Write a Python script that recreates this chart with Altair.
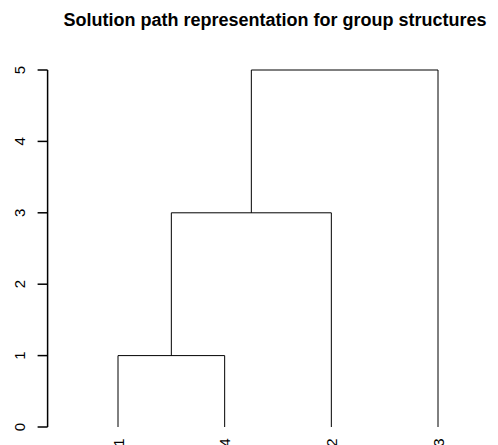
import altair as alt
import pandas as pd

# Dendrogram data (hclust-style merge table)
leaf_order = ["1", "4", "2", "3"]          # leaf labels in plotted order
merge_left = ["1", "m1", "m2"]              # left child of each merge
merge_right = ["4", "2", "3"]               # right child of each merge
merge_height = [1, 3, 5]                    # height of each merge
y_ticks = [0, 1, 2, 3, 4, 5]
axis_pos = 0.34                             # where the height axis sits (x units)

# positions derived from the merge structure
pos = {lab: i + 1 for i, lab in enumerate(leaf_order)}
hgt = {lab: 0 for lab in leaf_order}
rows = []
for i, (a, b, h) in enumerate(zip(merge_left, merge_right, merge_height)):
    name = f"m{i+1}"
    xa, xb = pos[a], pos[b]
    rows.append({"x": xa, "x2": xb, "y": h, "y2": h})
    rows.append({"x": xa, "x2": xa, "y": hgt[a], "y2": h})
    rows.append({"x": xb, "x2": xb, "y": hgt[b], "y2": h})
    pos[name] = (xa + xb) / 2
    hgt[name] = h
seg = pd.DataFrame(rows)
ticks_df = pd.DataFrame({"t": y_ticks, "ax": [axis_pos] * len(y_ticks),
                         "lab": [str(v) for v in y_ticks]})
span_df = pd.DataFrame({"ax": [axis_pos], "lo": [min(y_ticks)], "hi": [max(y_ticks)]})

label_expr = "{" + ",".join(f"'{i+1}':'{lab}'" for i, lab in enumerate(leaf_order)) + "}[datum.value]"

xscale = alt.Scale(domain=[0.0625, 4.4875], nice=False, zero=False)
yscale = alt.Scale(domain=[0, 5], nice=False)

dendro = alt.Chart(seg).mark_rule(color="black", strokeWidth=1).encode(
    x=alt.X("x:Q", scale=xscale,
            axis=alt.Axis(values=[1, 2, 3, 4], labelExpr=label_expr, title=None,
                          domain=False, ticks=False, grid=False,
                          labelAngle=270, labelAlign="right", labelBaseline="middle",
                          labelPadding=11, labelFontSize=15, labelFont="Liberation Sans",
                          labelColor="black")),
    x2="x2:Q",
    y=alt.Y("y:Q", scale=yscale, axis=None),
    y2="y2:Q",
)

axis_line = alt.Chart(span_df).mark_rule(color="#000000", strokeWidth=1.5, opacity=1).encode(
    x=alt.X("ax:Q", scale=xscale),
    y=alt.Y("lo:Q", scale=yscale),
    y2="hi:Q",
)

axis_ticks = alt.Chart(ticks_df).mark_rule(color="#000000", strokeWidth=1.5, opacity=1,
                                           x2Offset=-10).encode(
    x=alt.X("ax:Q", scale=xscale),
    x2="ax:Q",
    y=alt.Y("t:Q", scale=yscale),
)

axis_labels = alt.Chart(ticks_df).mark_text(
    angle=270, align="center", baseline="alphabetic", xOffset=-23,
    fontSize=15, font="Liberation Sans", color="black",
).encode(
    x=alt.X("ax:Q", scale=xscale),
    y=alt.Y("t:Q", scale=yscale),
    text="lab:N",
)

chart = alt.layer(dendro, axis_line, axis_ticks, axis_labels).properties(
    width=472,
    height=357,
    padding={"left": 10, "top": 62, "right": 0, "bottom": 18},
    autosize=alt.AutoSizeParams(type="none"),
    title=alt.TitleParams("Solution path representation for group structures",
                          font="Liberation Sans", fontSize=18, fontWeight="bold",
                          color="black", anchor="middle", baseline="alphabetic",
                          frame="group", offset=22, dx=21),
).configure_view(stroke=None)

chart.save("out.html", embed_options={"renderer": "svg", "actions": False})
